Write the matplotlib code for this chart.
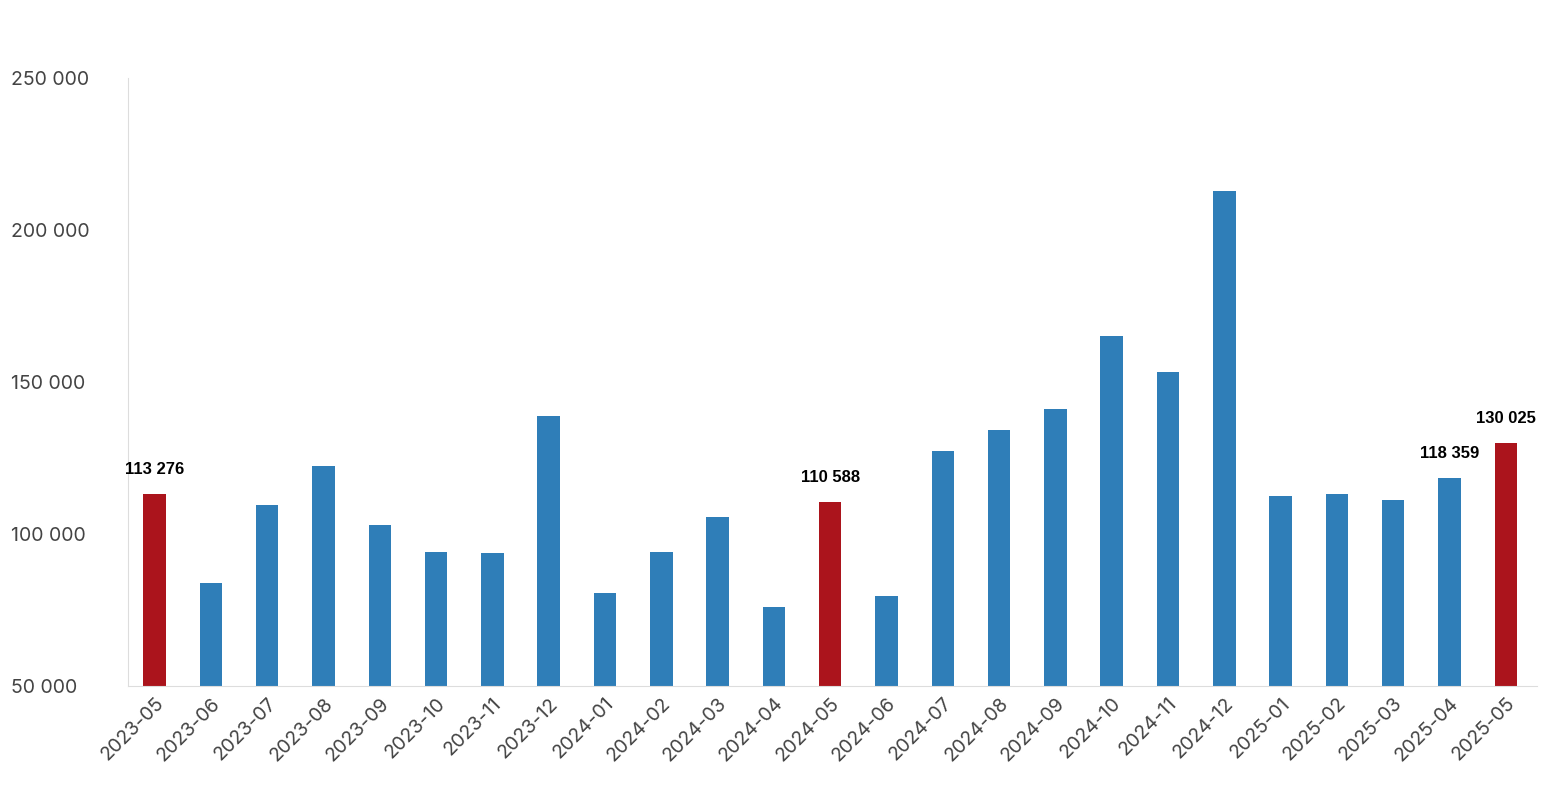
import matplotlib
matplotlib.use("Agg")
import matplotlib.pyplot as plt

months = ["2023-05","2023-06","2023-07","2023-08","2023-09","2023-10","2023-11","2023-12",
          "2024-01","2024-02","2024-03","2024-04","2024-05","2024-06","2024-07","2024-08",
          "2024-09","2024-10","2024-11","2024-12","2025-01","2025-02","2025-03","2025-04","2025-05"]
values = [113276, 83900, 109500, 122400, 103000, 94100, 93700, 138800,
          80600, 94100, 105600, 76000, 110588, 79600, 127300, 134200,
          141100, 165100, 153300, 212800, 112500, 113200, 111200, 118359, 130025]
highlight = ["2023-05", "2024-05", "2025-05"]
labeled = ["2023-05", "2024-05", "2025-04", "2025-05"]
yticks = [50000, 100000, 150000, 200000, 250000]

def fmt(v):
    return f"{v:,}".replace(",", " ")

fig = plt.figure(figsize=(15.56, 8.0), dpi=100)
ax = fig.add_axes([0.082, 0.1425, 0.906, 0.76])
colors = ["#ab141c" if m in highlight else "#2f7eb8" for m in months]
x = range(len(months))
ax.bar(x, values, width=0.4, color=colors)
for i, (m, v) in enumerate(zip(months, values)):
    if m in labeled:
        ax.text(i, v + 5500, fmt(v), ha="center", va="bottom", fontsize=12,
                fontweight="bold", color="black", family="Liberation Sans")
ax.set_ylim(50000, 250000)
ax.set_xlim(-0.48, 24.56)
ax.set_yticks(yticks)
ax.set_yticklabels([fmt(t) for t in yticks], fontsize=14, color="#444444", family="Inter")
ax.set_xticks(list(x))
ax.set_xticklabels(months, rotation=45, ha="right", rotation_mode="anchor",
                   fontsize=14, color="#444444", family="Inter")
for s in ["top", "right"]:
    ax.spines[s].set_visible(False)
ax.spines["left"].set_color("#dddddd")
ax.spines["bottom"].set_color("#dddddd")
ax.tick_params(axis="x", length=0, pad=6)
ax.tick_params(axis="y", length=0, pad=84)
for lbl in ax.get_yticklabels():
    lbl.set_horizontalalignment("left")
for lbl in ax.get_xticklabels():
    lbl.set_x(lbl.get_position()[0])
fig.savefig("out.png", dpi=100)
